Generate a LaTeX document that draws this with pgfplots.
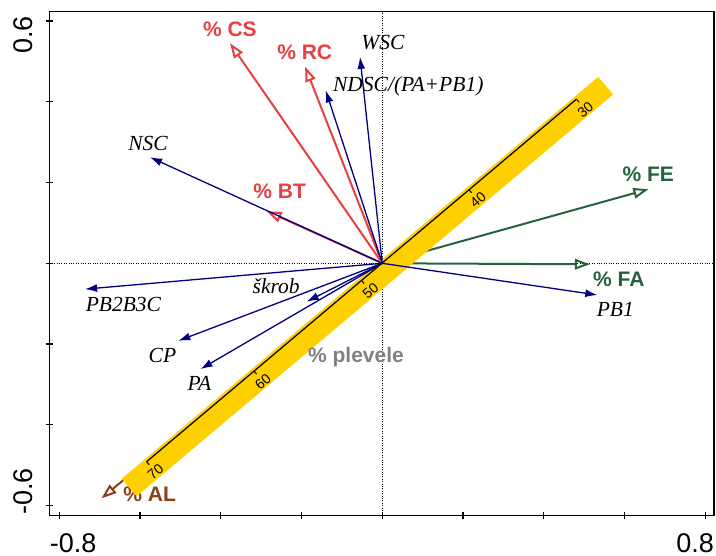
\documentclass[border=0pt]{standalone}
\usepackage{pgfplots}
\pgfplotsset{compat=1.18}
\usetikzlibrary{arrows.meta}
\usepackage{fontspec}
\setmainfont{Liberation Sans}
\newfontfamily\timesf{Liberation Serif}
\definecolor{envred}{RGB}{232,64,64}
\definecolor{envgreen}{RGB}{38,98,62}
\definecolor{envbrown}{RGB}{140,62,24}
\definecolor{spnavy}{RGB}{0,0,130}
\definecolor{bandyellow}{RGB}{255,208,0}
\definecolor{labgray}{RGB}{128,128,128}
\tikzset{
  env/.style={line width=2pt, -{Triangle[open,length=15pt,width=10.5pt]}},
  sp/.style={spnavy, line width=1.3pt, -{Latex[length=12pt,width=8pt]}},
  envlab/.style={font=\fontsize{21}{24}\selectfont\bfseries},
  splab/.style={font=\fontsize{21.5}{24}\selectfont\timesf\itshape, text=black},
  bandlab/.style={font=\fontsize{14}{16}\selectfont, rotate=40.15},
}
\begin{document}
\begin{tikzpicture}
\begin{axis}[name=ax, at={(0,0)}, anchor=south west,
  scale only axis, width=664.5pt, height=504pt,
  xmin=-0.824, xmax=0.8215, ymin=-0.625, ymax=0.623,
  xtick={-0.8,-0.6,-0.4,-0.2,0,0.2,0.4,0.6,0.8},
  ytick={-0.6,-0.4,-0.2,0,0.2,0.4,0.6},
  xticklabels={}, yticklabels={},
  xtick pos=left, ytick pos=left,
  tick align=center, major tick length=7pt,
  axis line style={line width=1.4pt, black},
  every tick/.style={line width=1.2pt, black},
  clip=false, no markers,
]
% zero lines
\addplot[black, line width=0.8pt, dash pattern=on 0.8pt off 1.6pt] coordinates {(-0.824,0) (0.8215,0)};
\addplot[black, line width=0.8pt, dash pattern=on 0.8pt off 1.6pt] coordinates {(0,-0.625) (0,0.623)};

% environmental arrows
\addplot[env, envred] coordinates {(0,0) (-0.377,0.545)};
\addplot[env, envred] coordinates {(0,0) (-0.191,0.487)};
\addplot[env, envred] coordinates {(0,0) (-0.2864,0.1293)};
\addplot[env, envgreen] coordinates {(0,0) (0.659,0.1833)};
\addplot[env, envgreen] coordinates {(0,0) (0.5144,-0.0025)};
\addplot[env, envbrown] coordinates {(0,0) (-0.695,-0.582)};
\node[envlab, text=envbrown] at (axis cs:-0.576,-0.573) {\% AL};

% supplementary (weeds) band
\addplot[bandyellow, line width=23pt] coordinates {(-0.6267,-0.5553) (0.5533,0.4398)};
\addplot[black, line width=1.2pt] coordinates {(-0.5835,-0.4913) (0.481,0.4064)};
\addplot[black, line width=1pt] coordinates {(0.481,0.4064) (0.4874,0.3988)};
\addplot[black, line width=1pt] coordinates {(0.2149,0.1820) (0.2213,0.1744)};
\addplot[black, line width=1pt] coordinates {(-0.0513,-0.0425) (-0.0449,-0.0501)};
\addplot[black, line width=1pt] coordinates {(-0.3174,-0.2669) (-0.3110,-0.2745)};
\addplot[black, line width=1pt] coordinates {(-0.5835,-0.4913) (-0.5771,-0.4989)};
\node[bandlab] at (axis cs:0.503,0.3805) {30};
\node[bandlab] at (axis cs:0.2369,0.1561) {40};
\node[bandlab] at (axis cs:-0.0293,-0.0684) {50};
\node[bandlab] at (axis cs:-0.2954,-0.2928) {60};
\node[bandlab] at (axis cs:-0.5615,-0.5172) {70};

% species arrows
\addplot[sp] coordinates {(0,0) (-0.055,0.511)};
\addplot[sp] coordinates {(0,0) (-0.140,0.428)};
\addplot[sp] coordinates {(0,0) (-0.575,0.2625)};
\addplot[sp] coordinates {(0,0) (-0.736,-0.064)};
\addplot[sp] coordinates {(0,0) (-0.187,-0.095)};
\addplot[sp] coordinates {(0,0) (-0.505,-0.192)};
\addplot[sp] coordinates {(0,0) (-0.450,-0.262)};
\addplot[sp] coordinates {(0,0) (0.5325,-0.0785)};

% labels
\node[envlab, text=envred] at (axis cs:-0.3772,0.579) {\% CS};
\node[envlab, text=envred] at (axis cs:-0.1919,0.5213) {\% RC};
\node[envlab, text=envred] at (axis cs:-0.254,0.1783) {\% BT};
\node[envlab, text=envgreen] at (axis cs:0.6588,0.2194) {\% FE};
\node[envlab, text=envgreen] at (axis cs:0.5857,-0.0401) {\% FA};
\node[envlab, text=labgray] at (axis cs:-0.0651,-0.232) {\% plevele};

\node[splab] at (axis cs:0.0017,0.5456) {WSC};
\node[splab] at (axis cs:0.0644,0.439) {NDSC/(PA+PB1)};
\node[splab] at (axis cs:-0.580,0.2977) {NSC};
\node[splab] at (axis cs:-0.641,-0.1015) {PB2B3C};
\node[splab] at (axis cs:-0.2627,-0.0565) {škrob};
\node[splab] at (axis cs:-0.5443,-0.2271) {CP};
\node[splab] at (axis cs:-0.4527,-0.2972) {PA};
\node[splab] at (axis cs:0.577,-0.1132) {PB1};

% tick labels
\node[font=\fontsize{27}{30}\selectfont, rotate=90, anchor=south east, inner sep=0pt] at (axis cs:-0.865,0.6126) {0.6};
\node[font=\fontsize{27}{30}\selectfont, rotate=90, anchor=south west, inner sep=0pt] at (axis cs:-0.865,-0.6233) {-0.6};
\node[font=\fontsize{27}{30}\selectfont, anchor=north west, inner sep=0pt] at (axis cs:-0.8235,-0.668) {-0.8};
\node[font=\fontsize{27}{30}\selectfont, anchor=north east, inner sep=0pt] at (axis cs:0.8215,-0.668) {0.8};
\end{axis}
\path (ax.south west) ++(-49.5pt,-40.3pt) rectangle ++(716pt,556pt);
\end{tikzpicture}
\end{document}
